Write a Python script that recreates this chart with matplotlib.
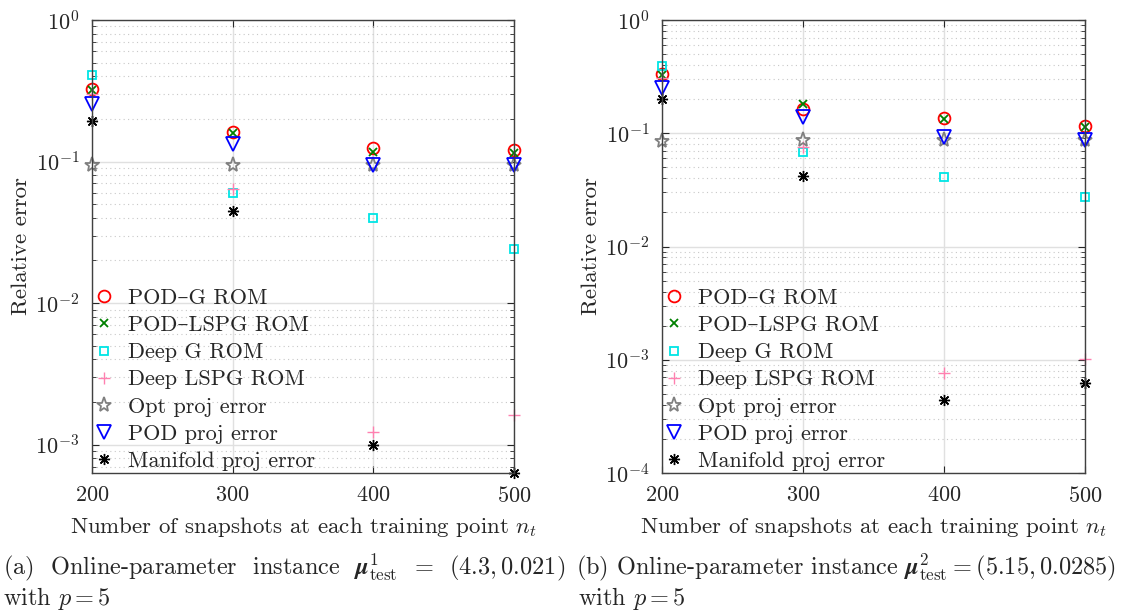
import matplotlib
matplotlib.use("Agg")
import matplotlib.pyplot as plt
import numpy as np

plt.rcParams['font.family'] = ['cmr10', 'DejaVu Serif']
plt.rcParams['mathtext.fontset'] = 'cm'
plt.rcParams['axes.formatter.use_mathtext'] = True

n_snap = [200, 300, 400, 500]
x_ticks = [200, 300, 400, 500]

labels = ['POD–G ROM', 'POD–LSPG ROM', 'Deep G ROM', 'Deep LSPG ROM',
          'Opt proj error', 'POD proj error', 'Manifold proj error']

# Panel (a)
a_podg = [0.326, 0.162, 0.124, 0.121]
a_podlspg = [0.318, 0.158, 0.117, 0.115]
a_deepg = [0.41, 0.060, 0.040, 0.0242]
a_deeplspg = [0.30, 0.064, 1.22e-3, 1.63e-3]
a_opt = [0.095, 0.095, 0.095, 0.094]
a_podproj = [0.255, 0.133, 0.095, 0.094]
a_manifold = [0.194, 0.045, 9.9e-4, 6.3e-4]

# Panel (b)
b_podg = [0.333, 0.164, 0.136, 0.116]
b_podlspg = [0.33, 0.180, 0.134, 0.114]
b_deepg = [0.39, 0.068, 0.041, 0.0274]
b_deeplspg = [0.31, 0.076, 7.65e-4, 1.02e-3]
b_opt = [0.0855, 0.087, 0.088, 0.088]
b_podproj = [0.25, 0.139, 0.093, 0.087]
b_manifold = [0.20, 0.042, 4.43e-4, 6.24e-4]

styles = [
    dict(marker='o', mfc='none', mec='#ff0000', ms=8.5, mew=1.3),
    dict(marker='x', color='#008000', mec='#008000', ms=5.5, mew=1.3),
    dict(marker='s', mfc='none', mec='#00e5e5', ms=5.5, mew=1.3),
    dict(marker='+', color='#ff80b0', mec='#ff80b0', ms=9, mew=1.0),
    dict(marker='*', mfc='none', mec='#808080', ms=11, mew=1.3),
    dict(marker='v', mfc='none', mec='#0000ff', ms=9.5, mew=1.3),
    dict(marker=(8, 2, 0), mfc='none', mec='#000000', ms=8, mew=1.0),
]

fig = plt.figure(figsize=(11.46, 6.12), dpi=100)
ax1 = fig.add_axes([92/1146, 1-473/612, (514-92)/1146, (473-20)/612])
ax2 = fig.add_axes([662/1146, 1-473/612, (1085-662)/1146, (473-20)/612])

def draw(ax, series, ylim):
    for s, st, lab in zip(series, styles, labels):
        ax.plot(n_snap, s, linestyle='none', label=lab, clip_on=False, **st)
    ax.set_yscale('log')
    ax.set_xlim(200, 500)
    ax.set_ylim(*ylim)
    ax.set_xticks(x_ticks)
    ax.grid(True, which='major', color='#e0e0e0', linewidth=1.0, linestyle='-')
    ax.grid(True, which='minor', color='#c8c8c8', linewidth=0.8, linestyle=(0, (1, 3)))
    ax.set_axisbelow(True)
    ax.tick_params(which='both', direction='in', top=True, right=True,
                   labelsize=16, colors='#262626', pad=9)
    ax.tick_params(which='major', length=5)
    ax.tick_params(which='minor', length=3)
    for sp in ax.spines.values():
        sp.set_color('#404040')
        sp.set_linewidth(1.0)
    ax.set_xlabel('Number of snapshots at each training point $n_t$', fontsize=16.5, color='#262626', labelpad=7)
    ax.set_ylabel('Relative error', fontsize=16.5, color='#262626', labelpad=3)
    leg = ax.legend(loc='lower left', frameon=False, fontsize=16, handletextpad=0.6,
                    labelspacing=0.34, borderaxespad=0.0, handlelength=0.9,
                    borderpad=0.1)
    for t in leg.get_texts():
        t.set_color('#262626')

draw(ax1, [a_podg, a_podlspg, a_deepg, a_deeplspg, a_opt, a_podproj, a_manifold], (6.3e-4, 1))
draw(ax2, [b_podg, b_podlspg, b_deepg, b_deeplspg, b_opt, b_podproj, b_manifold], (1e-4, 1))

fig.text(3/1146, 1-567/612, r'(a)  Online-parameter  instance  $\boldsymbol{\mu}^1_{\mathrm{test}}$  =  $(4.3, 0.021)$',
         fontsize=17.5, va='center', ha='left', color='#262626')
fig.text(3/1146, 1-598/612, r'with $p = 5$', fontsize=17.5, va='center', ha='left', color='#262626')
fig.text(576/1146, 1-567/612, r'(b) Online-parameter instance $\boldsymbol{\mu}^2_{\mathrm{test}} = (5.15, 0.0285)$',
         fontsize=17.5, va='center', ha='left', color='#262626')
fig.text(578/1146, 1-598/612, r'with $p = 5$', fontsize=17.5, va='center', ha='left', color='#262626')

fig.savefig('out.png', dpi=100)
